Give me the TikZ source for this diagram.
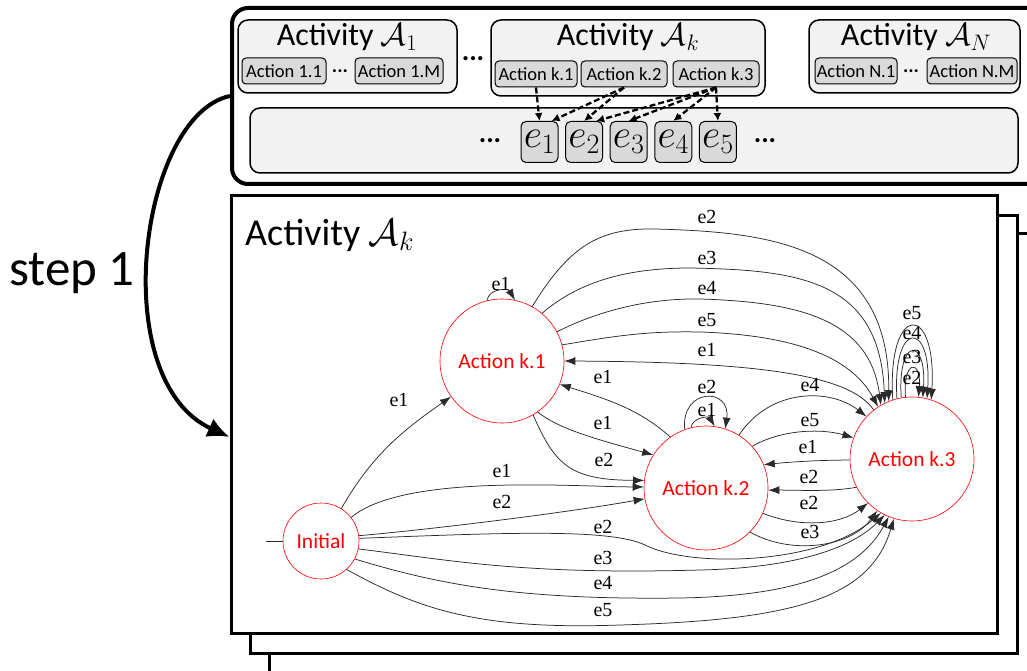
\documentclass[tikz,border=0pt]{standalone}
\usepackage{fix-cm}
\usepackage[no-math]{fontspec}
\setmainfont{Carlito}
\newfontfamily\gvfont{Liberation Serif}
\usetikzlibrary{arrows.meta,positioning}
\definecolor{boxfill}{HTML}{F2F2F2}
\definecolor{actfill}{HTML}{D9D9D9}
\definecolor{edgegray}{HTML}{2A2A2A}
\definecolor{statered}{HTML}{FF0000}

\begin{document}
\begin{tikzpicture}[x=1pt,y=-1pt]
\tikzstyle{actbox}=[draw=black,fill=boxfill,line width=1.5pt,rounded corners=10pt]
\tikzstyle{actionbox}=[draw=black,fill=actfill,line width=1pt,rounded corners=4pt,
inner sep=1pt,minimum height=26pt,font=\fontsize{18.5}{18.5}\selectfont]
\tikzstyle{evnode}=[draw=black,fill=actfill,line width=1pt,rounded corners=5pt,
minimum width=37pt,minimum height=41pt,inner sep=0pt,font=\fontsize{40}{40}\selectfont]
\tikzstyle{acttitle}=[font=\fontsize{32}{32}\selectfont,inner sep=0pt,anchor=base]
\tikzstyle{dotsnode}=[font=\fontsize{28}{28}\selectfont\bfseries,inner sep=0pt]
\tikzstyle{smalldots}=[font=\fontsize{20}{20}\selectfont\bfseries,inner sep=0pt]
\tikzstyle{actframe}=[draw=black,fill=white,line width=3pt,inner sep=0pt]
\tikzstyle{statenode}=[circle,draw=statered,line width=0.6pt,text=statered,
minimum size=124pt,inner sep=0pt,font=\fontsize{21.5}{21.5}\selectfont]
\tikzstyle{gvedge}=[draw=edgegray,line width=0.75pt,-{Latex[length=11pt,width=8pt]}]
\tikzstyle{lbl}=[font=\gvfont\fontsize{20}{20}\selectfont,inner sep=0pt]
\tikzstyle{dasharrow}=[line width=2.3pt,dash pattern=on 6pt off 3pt,-{Latex[length=8pt,width=8pt]}]

\clip (0,0) rectangle (1027,671);

% activities and events (top)
\node[draw=black,line width=4pt,rounded corners=16pt,minimum width=820pt,minimum height=176pt] (topbox) at (642,96) {};

\node[actbox,minimum width=219pt,minimum height=73pt] (actA1) at (347.5,56.5) {};
\node[acttitle] (tA1) at (347,46) {Activity $\mathcal{A}_1$};
\node[actionbox,minimum width=84pt] (a11) at (284,71) {Action 1.1};
\node[smalldots] (d1) at (340,71) {...};
\node[actionbox,minimum width=88pt] (a1M) at (399,71) {Action 1.M};

\node[dotsnode] (d2) at (473,59) {...};

\node[actbox,minimum width=274pt,minimum height=76pt] (actAk) at (628,58) {};
\node[acttitle] (tAk) at (628,46) {Activity $\mathcal{A}_k$};
\node[actionbox,minimum width=82pt] (ak1) at (536,74) {Action k.1};
\node[actionbox,minimum width=86pt] (ak2) at (624,74) {Action k.2};
\node[actionbox,minimum width=86pt] (ak3) at (716,74) {Action k.3};

\node[actbox,minimum width=211pt,minimum height=73pt] (actAN) at (914.5,56.5) {};
\node[acttitle] (tAN) at (916,46) {Activity $\mathcal{A}_N$};
\node[actionbox,minimum width=82pt] (aN1) at (856,71) {Action N.1};
\node[smalldots] (d3) at (911,71) {...};
\node[actionbox,minimum width=90pt] (aNM) at (972,71) {Action N.M};

\node[actbox,minimum width=768pt,minimum height=65pt] (evbox) at (634,140.5) {};
\node[dotsnode] (d4) at (490,141) {...};
\node[evnode] at (539.5,142) (ev1) {$e_1$};
\node[evnode,right of=ev1,node distance=44.6pt] (ev2) {$e_2$};
\node[evnode,right of=ev2,node distance=44.6pt] (ev3) {$e_3$};
\node[evnode,right of=ev3,node distance=44.6pt] (ev4) {$e_4$};
\node[evnode,right of=ev4,node distance=44.6pt] (ev5) {$e_5$};
\node[dotsnode] (d5) at (765,141) {...};

\draw[dasharrow] (ak1.south) -- (ev1.north);
\draw[dasharrow] (ak2.south) -- (ev1.60);
\draw[dasharrow] (ak2.south) -- (ev2.north);
\draw[dasharrow] (ak3.south) -- (ev2.60);
\draw[dasharrow] (ak3.south) -- (ev3.north);
\draw[dasharrow] (ak3.south) -- (ev4.north);
\draw[dasharrow] (ak3.south) -- (ev5.north);

% stacked activity frames
\node[actframe,minimum width=790pt,minimum height=460pt] (frame3) at (664,463) {};
\node[actframe,minimum width=767pt,minimum height=438pt] (frame2) at (633.5,434) {};
\node[actframe,minimum width=766pt,minimum height=438pt] (frame1) at (614,414) {};
\node[font=\fontsize{38}{38}\selectfont,inner sep=0pt,anchor=base west] (ftitle) at (245,245) {Activity $\mathcal{A}_k$};

% step 1
\node[font=\fontsize{51}{51}\selectfont,inner sep=0pt,anchor=base west] (steplbl) at (9,285) {step 1};
\draw[line width=4pt,-{Latex[length=22pt,width=20pt]}] (topbox.west) .. controls (140,115) and (105,380) .. ([yshift=-23pt]frame1.west);

% automaton
\node[statenode] (k1) at (502,361) {Action k.1};
\node[statenode] (k2) at (706,488) {Action k.2};
\node[statenode] (k3) at (912,459) {Action k.3};
\node[statenode,minimum size=76pt] (init) at (321,541) {Initial};
\coordinate (start) at (266,541);
\draw[draw=edgegray,line width=0.75pt] (start) -- (init);

% from Initial
\draw[gvedge] (init.58) to[out=60,in=215] (k1.215) node[lbl] at (399,400) {e1};
\draw[gvedge] (init.38) to[out=40,in=180,looseness=0.6] (k2.179) node[lbl] at (502,471) {e1};
\draw[gvedge] (init.8) to[out=5,in=190,looseness=0.7] (k2.190) node[lbl] at (502,502) {e2};
\draw[gvedge] (init.4) .. controls (500,533) and (610,528) .. (645,545) .. controls (690,568) and (820,565) .. (k3.240) node[lbl] at (603,527) {e2};
\draw[gvedge] (init.-12) .. controls (450,560) and (520,575) .. (700,570) .. controls (790,568) and (850,550) .. (k3.244) node[lbl] at (603,558) {e3};
\draw[gvedge] (init.-28) .. controls (440,585) and (520,600) .. (680,598) .. controls (800,596) and (860,570) .. (k3.248) node[lbl] at (603,583) {e4};
\draw[gvedge] (init.-48) .. controls (420,610) and (480,630) .. (620,625) .. controls (790,620) and (870,600) .. (k3.253) node[lbl] at (603,610) {e5};

% from Action k.1
\draw[gvedge] (k1.104) to[out=80,in=120,looseness=1.2] (k1.78) node[lbl] at (501,284) {e1};
\draw[gvedge] (k1.61) .. controls (570,245) and (600,228) .. (655,229) .. controls (770,232) and (890,245) .. (k3.112) node[lbl] at (707,217) {e2};
\draw[gvedge] (k1.50) .. controls (575,285) and (620,268) .. (690,268) .. controls (800,270) and (880,280) .. (k3.116) node[lbl] at (707,258) {e3};
\draw[gvedge] (k1.28) .. controls (590,315) and (640,298) .. (700,299) .. controls (800,302) and (870,320) .. (k3.120) node[lbl] at (707,288) {e4};
\draw[gvedge] (k1.15) .. controls (620,335) and (650,331) .. (700,332) .. controls (790,335) and (850,355) .. (k3.123) node[lbl] at (707,320) {e5};
\draw[gvedge] (k1.305) .. controls (560,430) and (600,440) .. (k2.148) node[lbl] at (603,423) {e1};
\draw[gvedge] (k1.300) .. controls (555,465) and (570,480) .. (k2.173) node[lbl] at (604,460) {e2};

% from Action k.2
\draw[gvedge] (k2.125) .. controls (640,410) and (610,400) .. (k1.338) node[lbl] at (603,377) {e1};
\draw[gvedge] (k2.104) to[out=80,in=120,looseness=1.2] (k2.82) node[lbl] at (707,410) {e1};
\draw[gvedge] (k2.110) .. controls +(-4,-42) and +(6,-42) .. (k2.72) node[lbl] at (707,387) {e2};
\draw[gvedge] (k2.58) .. controls (770,388) and (830,388) .. (k3.137) node[lbl] at (810,385) {e4};
\draw[gvedge] (k2.42) .. controls (780,430) and (820,428) .. (k3.160) node[lbl] at (810,420) {e5};
\draw[gvedge] (k2.336) .. controls (800,528) and (840,525) .. (k3.225) node[lbl] at (809,503) {e2};
\draw[gvedge] (k2.315) .. controls (790,555) and (850,548) .. (k3.236) node[lbl] at (810,532) {e3};

% from Action k.3
\draw[gvedge] (k3.128) .. controls (850,375) and (760,362) .. (k1.0) node[lbl] at (707,350) {e1};
\draw[gvedge] (k3.181) .. controls (820,460) and (790,462) .. (k2.22) node[lbl] at (808,447) {e1};
\draw[gvedge] (k3.207) .. controls (830,492) and (800,490) .. (k2.358) node[lbl] at (809,477) {e2};
\draw[gvedge] (k3.96) .. controls +(-3,-38) and +(3,-38) .. (k3.84) node[lbl] at (912,378) {e2};
\draw[gvedge] (k3.100) .. controls +(-4,-61) and +(4,-61) .. (k3.80) node[lbl] at (912,357) {e3};
\draw[gvedge] (k3.104) .. controls +(-5,-79) and +(5,-79) .. (k3.76) node[lbl] at (912,333) {e4};
\draw[gvedge] (k3.108) .. controls +(-6,-98) and +(6,-98) .. (k3.72) node[lbl] at (912,313) {e5};

\end{tikzpicture}
\end{document}
